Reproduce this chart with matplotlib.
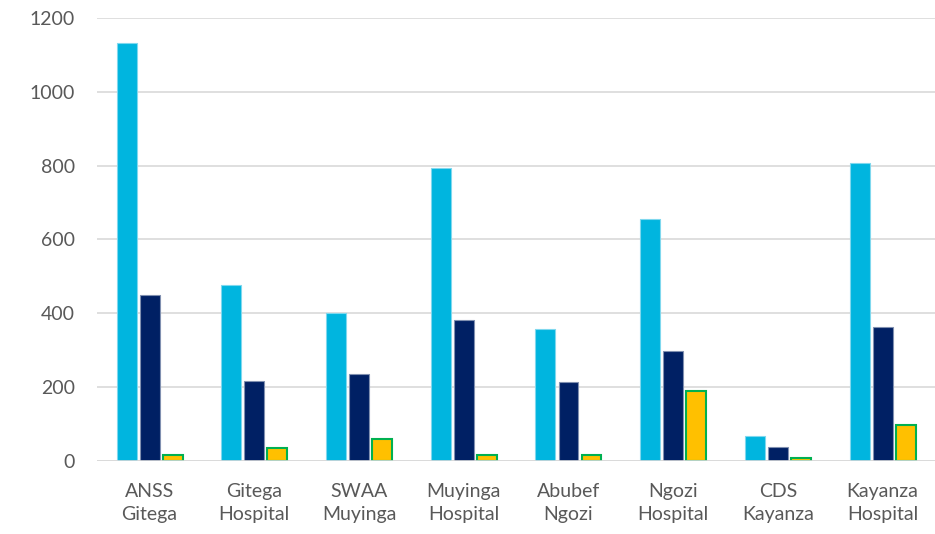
import matplotlib
matplotlib.use("Agg")
from matplotlib import pyplot as plt
import numpy as np

plt.rcParams['font.family'] = ['Lato', 'DejaVu Sans']

categories = ["ANSS\nGitega", "Gitega\nHospital", "SWAA\nMuyinga", "Muyinga\nHospital",
              "Abubef\nNgozi", "Ngozi\nHospital", "CDS\nKayanza", "Kayanza\nHospital"]
series_a = [1133, 477, 402, 794, 358, 655, 68, 807]
series_b = [450, 217, 235, 383, 214, 298, 38, 363]
series_c = [15, 35, 60, 15, 15, 190, 8, 98]

fig = plt.figure(figsize=(9.35, 5.34), dpi=100)
ax = fig.add_axes([0.104, 0.137, 0.896, 0.829])

x = np.arange(len(categories))
w = 0.19
step = 0.22
ax.bar(x - step, series_a, w, color="#00B5DF", edgecolor="#7FD8EE", linewidth=0.8, zorder=3)
ax.bar(x, series_b, w, color="#002064", edgecolor="#8090B0", linewidth=0.8, zorder=3)
ax.bar(x + step, series_c, w, color="#FFC000", edgecolor="#00B050", linewidth=1.5, zorder=3)

ax.set_xlim(-0.5, len(categories) - 0.5)
ax.set_ylim(0, 1200)
ax.set_yticks(range(0, 1201, 200))
ax.set_xticks(x)
ax.set_xticklabels(categories, linespacing=1.45)
ax.yaxis.grid(True, color="#D9D9D9", linewidth=1.2, zorder=0)
for s in ax.spines.values():
    s.set_visible(False)
ax.axhline(0, color="#D9D9D9", linewidth=1.2, zorder=4)
ax.tick_params(axis="both", length=0, labelsize=14, colors="#595959")
ax.tick_params(axis="y", pad=16)
ax.tick_params(axis="x", pad=16)

fig.savefig("out.png", dpi=100)
